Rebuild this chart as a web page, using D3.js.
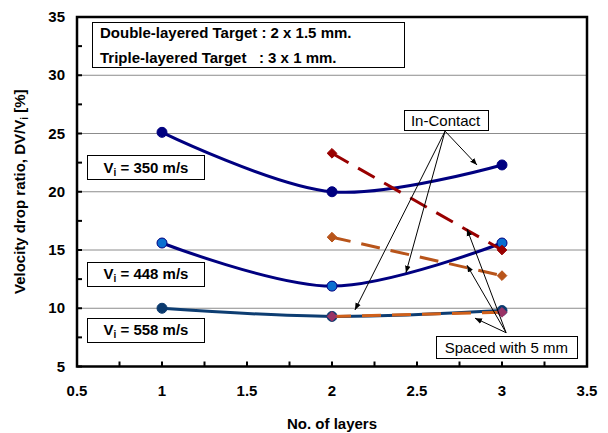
<!DOCTYPE html>
<html>
<head>
<meta charset="utf-8">
<script src="https://cdn.jsdelivr.net/npm/d3@7"></script>
<style>
  html, body { margin: 0; padding: 0; background: #fff; }
  svg { display: block; font-family: "Liberation Sans", Arial, sans-serif; }
  .pre { white-space: pre; }
</style>
</head>
<body>
<svg id="chart" width="608" height="433"></svg>
<script>
// Velocity drop ratio vs. number of target layers
const layers = [1, 2, 3];
const contact350 = [25.1, 20.0, 22.3];
const contact448 = [15.6, 11.9, 15.6];
const contact558 = [10.0, 9.3, 9.8];

const spacedLayers = [2, 3];
const spaced350 = [23.3, 15.0];
const spaced448 = [16.1, 12.8];
const spaced558 = [9.3, 9.65];

const xTicks = [0.5, 1, 1.5, 2, 2.5, 3, 3.5];
const yTicks = [5, 10, 15, 20, 25, 30, 35];
const xTickLabels = ["0.5", "1", "1.5", "2", "2.5", "3", "3.5"];
const yTickLabels = ["5", "10", "15", "20", "25", "30", "35"];

const velocityLabels = ["350", "448", "558"];
const velocityLabelY = [22.1, 12.95, 8.15];   // label box centres, in %

const svg = d3.select("#chart");
const M = { left: 77, right: 587, top: 17, bottom: 366.5 };

const x = d3.scaleLinear().domain([0.5, 3.5]).range([M.left, M.right]);
const y = d3.scaleLinear().domain([5, 35]).range([M.bottom, M.top]);

// arrowhead
svg.append("defs").append("marker")
  .attr("id", "arr").attr("viewBox", "0 0 10 10")
  .attr("refX", 10).attr("refY", 5)
  .attr("markerWidth", 7).attr("markerHeight", 7)
  .attr("markerUnits", "userSpaceOnUse")
  .attr("orient", "auto")
  .append("path").attr("d", "M0,1 L10,5 L0,9 Z").attr("fill", "#000");

// horizontal gridlines
svg.append("g").selectAll("line")
  .data(yTicks.filter(v => v > 5 && v < 35))
  .join("line")
  .attr("x1", M.left).attr("x2", M.right)
  .attr("y1", d => y(d)).attr("y2", d => y(d))
  .attr("stroke", "#8c8c8c").attr("stroke-width", 1);

// inward ticks (major + minor)
const yMinor = d3.range(5, 35.01, 2.5);
svg.append("g").selectAll("line").data(yMinor).join("line")
  .attr("x1", M.left).attr("x2", M.left + 5)
  .attr("y1", d => y(d)).attr("y2", d => y(d))
  .attr("stroke", "#000").attr("stroke-width", 2);
const xMinor = d3.range(0.5, 3.51, 0.25);
svg.append("g").selectAll("line").data(xMinor).join("line")
  .attr("x1", d => x(d)).attr("x2", d => x(d))
  .attr("y1", M.bottom).attr("y2", M.bottom - 5)
  .attr("stroke", "#000").attr("stroke-width", 2);

// tick labels
svg.append("g").selectAll("text").data(yTicks).join("text")
  .attr("x", M.left - 12).attr("y", d => y(d) + 5)
  .attr("text-anchor", "end").attr("font-size", 15).attr("font-weight", "bold")
  .text((d, i) => yTickLabels[i]);
svg.append("g").selectAll("text").data(xTicks).join("text")
  .attr("x", d => x(d)).attr("y", 396)
  .attr("text-anchor", "middle").attr("font-size", 15).attr("font-weight", "bold")
  .text((d, i) => xTickLabels[i]);

// axis titles
svg.append("text")
  .attr("x", (M.left + M.right) / 2).attr("y", 429)
  .attr("text-anchor", "middle").attr("font-size", 15).attr("font-weight", "bold")
  .text("No. of layers");
const yt = svg.append("text")
  .attr("transform", `translate(25,${(M.top + M.bottom) / 2}) rotate(-90)`)
  .attr("text-anchor", "middle").attr("font-size", 15).attr("font-weight", "bold");
yt.append("tspan").text("Velocity drop ratio, DV/V");
yt.append("tspan").attr("font-size", 10).attr("dy", 3).text("i");
yt.append("tspan").attr("dy", -3).text(" [%]");

// series
const smooth = d3.line().x(d => x(d[0])).y(d => y(d[1])).curve(d3.curveCatmullRom.alpha(0.5));
const straight = d3.line().x(d => x(d[0])).y(d => y(d[1]));

const contactSeries = [
  { v: contact350, line: "#000080", fill: "#000080", stroke: "#000080" },
  { v: contact448, line: "#000080", fill: "#0a6fd0", stroke: "#000080" },
  { v: contact558, line: "#0d3d72", fill: "#0b3a6e", stroke: "#0b3a6e" }
];
const spacedSeries = [
  { v: spaced350, line: "#990000", fill: "#990000" },
  { v: spaced448, line: "#b8541a", fill: "#b8541a" },
  { v: spaced558, line: "#d0601a", fill: "#993366" }
];

contactSeries.forEach(s => {
  const pts = layers.map((l, i) => [l, s.v[i]]);
  svg.append("path").attr("d", smooth(pts))
    .attr("fill", "none").attr("stroke", s.line).attr("stroke-width", 3);
  svg.append("g").selectAll("circle").data(pts).join("circle")
    .attr("cx", d => x(d[0])).attr("cy", d => y(d[1])).attr("r", 5)
    .attr("fill", s.fill).attr("stroke", s.stroke).attr("stroke-width", 1);
});

const diamond = d3.symbol().type(d3.symbolDiamond2).size(60);
spacedSeries.forEach(s => {
  const pts = spacedLayers.map((l, i) => [l, s.v[i]]);
  svg.append("path").attr("d", straight(pts))
    .attr("fill", "none").attr("stroke", s.line).attr("stroke-width", 3)
    .attr("stroke-dasharray", "19,11");
  svg.append("g").selectAll("path").data(pts).join("path")
    .attr("d", diamond)
    .attr("transform", d => `translate(${x(d[0])},${y(d[1])})`)
    .attr("fill", s.fill).attr("stroke", s.fill).attr("stroke-width", 1);
});

// note box
svg.append("rect").attr("x", 92.5).attr("y", 22.5).attr("width", 312).attr("height", 45)
  .attr("fill", "#fff").attr("stroke", "#000").attr("stroke-width", 1);
svg.append("text").attr("class", "pre").attr("x", 100).attr("y", 38)
  .attr("font-size", 15).attr("font-weight", "bold")
  .text("Double-layered Target : 2 x 1.5 mm.");
svg.append("text").attr("class", "pre").attr("x", 100).attr("y", 63)
  .attr("font-size", 15).attr("font-weight", "bold")
  .text("Triple-layered Target   : 3 x 1 mm.");

// impact velocity labels
velocityLabels.forEach((v, i) => {
  const cy = y(velocityLabelY[i]);
  svg.append("rect").attr("x", 87.5).attr("y", Math.round(cy - 12) + 0.5)
    .attr("width", 117).attr("height", 24)
    .attr("fill", "#fff").attr("stroke", "#000").attr("stroke-width", 1);
  const t = svg.append("text").attr("x", 146).attr("y", cy + 5.5)
    .attr("text-anchor", "middle").attr("font-size", 15).attr("font-weight", "bold");
  t.append("tspan").text("V");
  t.append("tspan").attr("font-size", 10).attr("dy", 3).text("i");
  t.append("tspan").attr("dy", -3).text(" = " + v + " m/s");
});

// callouts (anchor and arrow tips in data units)
const inContactFrom = [2.665, 25.2];
const inContactTo = [[2.853, 22.3], [2.435, 13.05], [2.135, 9.85]];
const spacedFrom = [3.024, 7.9];
const spacedTo = [[2.794, 16.8], [2.794, 13.7], [2.841, 9.15]];

function callout(from, targets) {
  svg.append("g").selectAll("line").data(targets).join("line")
    .attr("x1", x(from[0])).attr("y1", y(from[1]))
    .attr("x2", d => x(d[0])).attr("y2", d => y(d[1]))
    .attr("stroke", "#000").attr("stroke-width", 1)
    .attr("marker-end", "url(#arr)");
}
callout(inContactFrom, inContactTo);
callout(spacedFrom, spacedTo);

function labelBox(cx, cy, w, h, str) {
  svg.append("rect").attr("x", Math.round(cx - w / 2) + 0.5).attr("y", Math.round(cy - h / 2) + 0.5)
    .attr("width", w).attr("height", h)
    .attr("fill", "#fff").attr("stroke", "#000").attr("stroke-width", 1);
  svg.append("text").attr("x", cx).attr("y", cy + 5.5)
    .attr("text-anchor", "middle").attr("font-size", 15).text(str);
}
labelBox(x(2.668), 120, 84, 20, "In-Contact");
labelBox(x(3.026), 347, 141, 22, "Spaced with 5 mm");

// plot frame
svg.append("rect").attr("x", M.left).attr("y", M.top)
  .attr("width", M.right - M.left).attr("height", M.bottom - M.top)
  .attr("fill", "none").attr("stroke", "#000").attr("stroke-width", 2.5);
</script>
</body>
</html>
